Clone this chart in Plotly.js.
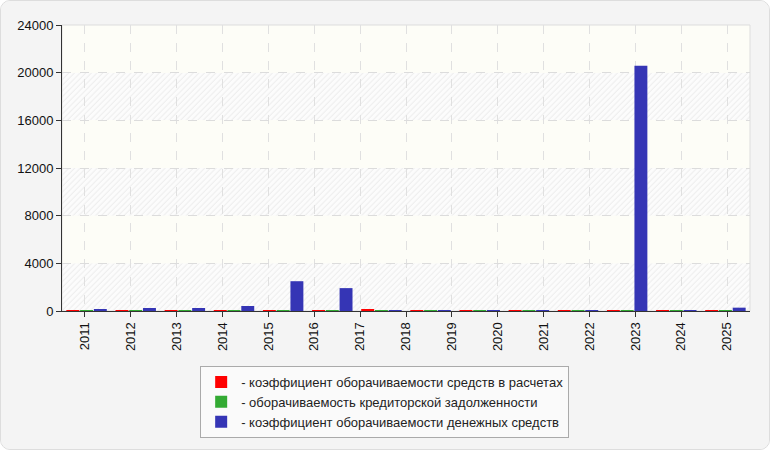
<!DOCTYPE html>
<html>
<head>
<meta charset="utf-8">
<script src="https://cdn.plot.ly/plotly-3.0.1.min.js"></script>
<style>
  html, body { margin: 0; padding: 0; background: #ffffff; }
  #chart {
    width: 768px; height: 448px;
    border: 1px solid #dddddd; border-radius: 10px;
    overflow: hidden; background: #f4f4f4;
  }
</style>
</head>
<body>
<div id="chart"></div>
<script>
// tick labels on the axis (15 years)
var years = ["2011", "2012", "2013", "2014", "2015", "2016", "2017", "2018",
             "2019", "2020", "2021", "2022", "2023", "2024", "2025"];
// the source chart only draws 14 bar groups, spread over the same width
var periods = ["p1", "p2", "p3", "p4", "p5", "p6", "p7", "p8",
               "p9", "p10", "p11", "p12", "p13", "p14"];

var turnoverSettlements = [84, 84, 84, 84, 84, 84, 170, 84, 84, 84, 84, 84, 84, 84];
var turnoverPayables    = [60, 60, 60, 60, 60, 60, 60, 60, 60, 60, 60, 60, 60, 60];
var turnoverCash        = [170, 250, 250, 420, 2500, 1920, 84, 84, 84, 84, 84, 20570, 84, 280];

var seriesNames = [
  "- коэффициент оборачиваемости средств в расчетах",
  "- оборачиваемость кредиторской задолженности",
  "- коэффициент оборачиваемости денежных средств"
];
var seriesColors = ["#ff0000", "#33aa33", "#3535b5"];

var yTicks = [0, 4000, 8000, 12000, 16000, 20000, 24000];
var hatchBands = [[0, 4000], [8000, 12000], [16000, 20000]];

var font = "Liberation Sans, Arial, sans-serif";

var data = [turnoverSettlements, turnoverPayables, turnoverCash].map(function (vals, i) {
  return {
    type: "bar",
    x: periods,
    y: vals,
    xaxis: "x2",
    name: seriesNames[i],
    marker: { color: seriesColors[i] },
    hoverinfo: "y"
  };
});

// empty trace so the year axis gets its categories and is drawn
data.push({
  type: "scatter", mode: "markers",
  x: years, y: years.map(function () { return null; }),
  xaxis: "x", showlegend: false, hoverinfo: "skip"
});

var hatchSvg = "<svg xmlns='http://www.w3.org/2000/svg' width='688' height='47' viewBox='0 0 688 47' preserveAspectRatio='none'>" +
  "<defs><pattern id='h' width='4' height='4' patternUnits='userSpaceOnUse' patternTransform='rotate(45)'>" +
  "<line x1='1' y1='0' x2='1' y2='4' stroke='#eeeeee' stroke-width='1.1'/></pattern></defs>" +
  "<rect width='688' height='47' fill='#fcfcfc'/><rect width='688' height='47' fill='url(#h)'/></svg>";
var hatchSrc = "data:image/svg+xml;charset=utf-8," + encodeURIComponent(hatchSvg);

var images = hatchBands.map(function (b) {
  return {
    source: hatchSrc, xref: "paper", yref: "y",
    x: 0, y: b[1], sizex: 1, sizey: b[1] - b[0],
    xanchor: "left", yanchor: "top", sizing: "stretch", layer: "below"
  };
});

var layout = {
  width: 768, height: 448,
  margin: { l: 61, r: 19, t: 24, b: 137 },
  paper_bgcolor: "#f4f4f4",
  plot_bgcolor: "#fdfdf7",
  font: { family: font, size: 13, color: "#111111" },
  barmode: "group",
  bargap: 0.16,
  bargroupgap: 0.06,
  showlegend: true,
  xaxis: {
    type: "category",
    categoryarray: years, categoryorder: "array",
    range: [-0.5, years.length - 0.5],
    tickangle: -90,
    ticks: "outside", ticklen: 5, tickcolor: "#333333",
    showline: true, linecolor: "#333333", linewidth: 1,
    showgrid: true, gridcolor: "#e0e0e0", griddash: "dash",
    zeroline: false, fixedrange: true
  },
  xaxis2: {
    overlaying: "x",
    type: "category",
    range: [-0.5, periods.length - 0.5],
    visible: false, fixedrange: true
  },
  yaxis: {
    range: [0, 24000],
    tickvals: yTicks,
    tickformat: "d",
    ticks: "outside", ticklen: 5, tickcolor: "#333333",
    showline: true, linecolor: "#333333", linewidth: 1,
    showgrid: true, gridcolor: "#dcdcdc", griddash: "dash",
    zeroline: false, fixedrange: true
  },
  images: images,
  shapes: [{
    type: "rect", xref: "paper", yref: "paper",
    x0: 0, x1: 1, y0: 0, y1: 1,
    line: { color: "#dddddd", width: 1 }, layer: "below"
  }],
  legend: {
    x: 0.469, xanchor: "center",
    y: -0.188, yanchor: "top",
    bgcolor: "#fafafa", bordercolor: "#aaaaaa", borderwidth: 1,
    font: { family: font, size: 13, color: "#222222" },
    traceorder: "normal",
    itemclick: false, itemdoubleclick: false
  }
};

var config = { displayModeBar: false, responsive: false };

Plotly.newPlot("chart", data, layout, config);
</script>
</body>
</html>
